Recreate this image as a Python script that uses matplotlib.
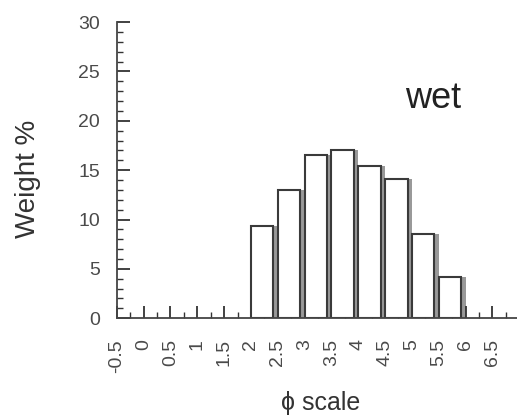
import numpy as np
import matplotlib
matplotlib.use('Agg')
from matplotlib import pyplot as plt
from matplotlib.ticker import MultipleLocator

plt.rcParams['font.family'] = ['Liberation Sans', 'DejaVu Sans']

# classes em phi (borda esquerda de cada barra) e peso %
phi_left = [2.0, 2.5, 3.0, 3.5, 4.0, 4.5, 5.0, 5.5]
weight = [9.3, 13.0, 16.5, 17.0, 15.4, 14.1, 8.5, 4.2]
xtick_vals = [-0.5, 0, 0.5, 1, 1.5, 2, 2.5, 3, 3.5, 4, 4.5, 5, 5.5, 6, 6.5]
xtick_labels = ['-0.5', '0', '0.5', '1', '1.5', '2', '2.5', '3', '3.5', '4', '4.5', '5', '5.5', '6', '6.5']
ytick_vals = [0, 5, 10, 15, 20, 25, 30]

fig = plt.figure(figsize=(5.17, 4.16), dpi=100)
ax = fig.add_axes([0.226, 0.235, 0.774, 0.712])

#sombra cinza atras das barras
ax.bar(phi_left, weight, width=0.5, align='edge', color='#999999', edgecolor='none', zorder=1)
ax.bar(phi_left, weight, width=0.42, align='edge', color='white', edgecolor='#3a3a3a', linewidth=1.5, zorder=2)

ax.set_xlim(-0.5, 6.96)
ax.set_ylim(0, 30)
ax.spines['top'].set_visible(False)
ax.spines['right'].set_visible(False)
for s in ['left', 'bottom']:
    ax.spines[s].set_color('#444444')
    ax.spines[s].set_linewidth(1.3)

ax.set_xticks(xtick_vals)
ax.set_xticklabels(xtick_labels, rotation=90, color='#4a4a4a', fontsize=14)
ax.xaxis.set_minor_locator(MultipleLocator(0.25))
ax.set_yticks(ytick_vals)
ax.set_yticklabels([str(v) for v in ytick_vals], color='#4a4a4a', fontsize=14)
ax.yaxis.set_minor_locator(MultipleLocator(1))
ax.tick_params(which='major', direction='in', length=9, width=1.3, color='#333333')
ax.tick_params(axis='x', which='major', pad=15)
ax.tick_params(axis='y', which='major', pad=12)
ax.tick_params(which='minor', direction='in', length=4.5, width=1.0, color='#333333')

ax.set_ylabel('Weight %', fontsize=20, color='#333333')
ax.yaxis.set_label_coords(-0.19, 0.47)
ax.set_xlabel('\u03d5 scale', fontsize=18, color='#333333')
ax.xaxis.set_label_coords(0.51, -0.245)
ax.text(5.4, 22.3, 'wet', fontsize=26, color='#222222', ha='center', va='center')

plt.savefig('out.png', dpi=100)
